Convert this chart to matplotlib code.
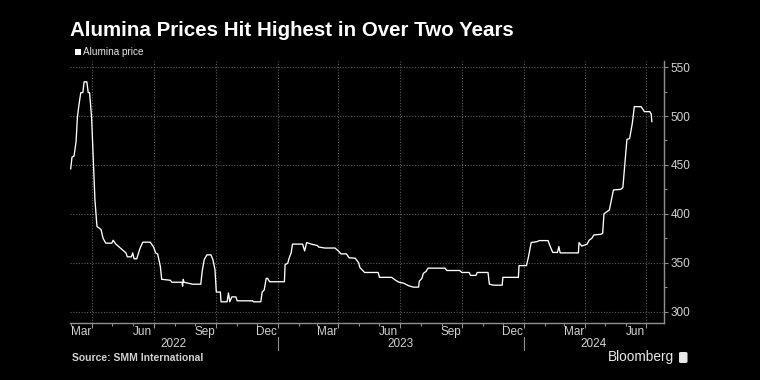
"""Alumina price chart, Bloomberg style"""

import matplotlib.pyplot as plt
import matplotlib.dates as mdates
import matplotlib.transforms as mtransforms
from matplotlib.patches import FancyBboxPatch, Rectangle
from matplotlib.ticker import MultipleLocator
import pandas as pd

plt.rcParams['font.family'] = ['Liberation Sans', 'DejaVu Sans']

TITLE = 'Alumina Prices Hit Highest in Over Two Years'
SERIES_NAME = 'Alumina price'
SOURCE = 'Source: SMM International'

dates = [
    '2022-02-28', '2022-03-02', '2022-03-05', '2022-03-08', '2022-03-10', '2022-03-12',
    '2022-03-15', '2022-03-18', '2022-03-20', '2022-03-24', '2022-03-26', '2022-03-28',
    '2022-03-31', '2022-04-03', '2022-04-05', '2022-04-08', '2022-04-14', '2022-04-17',
    '2022-04-21', '2022-04-30', '2022-05-02', '2022-05-06', '2022-05-11', '2022-05-16',
    '2022-05-21', '2022-05-23', '2022-05-29', '2022-05-31', '2022-06-02', '2022-06-06',
    '2022-06-11', '2022-06-15', '2022-06-26', '2022-07-01', '2022-07-04', '2022-07-07',
    '2022-07-11', '2022-07-13', '2022-07-26', '2022-07-28', '2022-08-12', '2022-08-13',
    '2022-08-14', '2022-08-15', '2022-08-28', '2022-09-09', '2022-09-11', '2022-09-14',
    '2022-09-18', '2022-09-24', '2022-09-27', '2022-09-30', '2022-10-02', '2022-10-08',
    '2022-10-09', '2022-10-18', '2022-10-20', '2022-10-22', '2022-10-25', '2022-10-31',
    '2022-11-02', '2022-11-25', '2022-11-26', '2022-12-07', '2022-12-09', '2022-12-12',
    '2022-12-15', '2022-12-17', '2022-12-20', '2023-01-11', '2023-01-12', '2023-01-16',
    '2023-01-18', '2023-01-21', '2023-01-23', '2023-02-07', '2023-02-10', '2023-02-13',
    '2023-02-20', '2023-03-01', '2023-03-03', '2023-03-12', '2023-03-27', '2023-04-01',
    '2023-04-05', '2023-04-13', '2023-04-17', '2023-04-26', '2023-05-01', '2023-05-03',
    '2023-05-10', '2023-05-30', '2023-06-01', '2023-06-19', '2023-06-25', '2023-06-30',
    '2023-07-07', '2023-07-14', '2023-07-21', '2023-07-29', '2023-07-30', '2023-08-03',
    '2023-08-05', '2023-08-09', '2023-08-12', '2023-09-06', '2023-09-09', '2023-09-28',
    '2023-10-01', '2023-10-12', '2023-10-14', '2023-10-22', '2023-10-24', '2023-11-09',
    '2023-11-11', '2023-11-17', '2023-11-30', '2023-12-01', '2023-12-24', '2023-12-25',
    '2024-01-05', '2024-01-08', '2024-01-12', '2024-01-21', '2024-01-24', '2024-02-06',
    '2024-02-09', '2024-02-13', '2024-02-20', '2024-02-22', '2024-02-24', '2024-03-22',
    '2024-03-23', '2024-03-27', '2024-03-31', '2024-04-04', '2024-04-07', '2024-04-11',
    '2024-04-14', '2024-04-24', '2024-04-27', '2024-04-29', '2024-05-03', '2024-05-07',
    '2024-05-13', '2024-05-24', '2024-05-27', '2024-06-02', '2024-06-06', '2024-06-10',
    '2024-06-13', '2024-06-23', '2024-06-28', '2024-07-06', '2024-07-08', '2024-07-09',
]

prices = [
    446, 458, 459, 474, 499, 510,
    524, 524, 535, 535, 524, 524,
    499, 448, 414, 387, 384, 375,
    370, 370, 373, 369, 366, 363,
    360, 356, 356, 360, 354, 354,
    365, 371, 371, 366, 360, 359,
    346, 333, 332, 330, 330, 326,
    333, 330, 328, 328, 341, 353,
    358, 358, 353, 343, 320, 320,
    310, 310, 319, 310, 315, 315,
    311, 311, 310, 310, 320, 322,
    334, 334, 330.5, 330.5, 348, 349.5,
    354.6, 360, 369, 369, 362, 370.6,
    369, 367.5, 366, 365, 365, 362,
    359, 359, 355, 354.6, 350, 345,
    340, 340, 335, 335, 332, 330,
    329, 326.5, 325, 325, 331, 334,
    339, 341, 344.4, 344.4, 342, 342,
    340, 340, 337, 337, 340, 340,
    328, 327, 327, 335, 335, 347,
    347, 356, 370.6, 371.6, 372.6, 372.6,
    367, 360.5, 360.5, 366.5, 360, 360,
    370.6, 367, 368, 369, 373, 375,
    378.4, 379, 380, 400, 402, 404,
    424.4, 425, 427, 476, 477, 492.6,
    509.6, 509.6, 504.5, 504.5, 502, 494.3,
]

y_ticks = [300, 350, 400, 450, 500, 550]
label_months = pd.date_range('2022-03-01', '2024-06-01', freq='3MS')
years = [2022, 2023, 2024]

x_start = pd.Timestamp('2022-02-27')
x_end = pd.Timestamp('2024-07-27')

TEXT_GREY = '#d2d2d2'
GRID_GREY = '#5c5c5c'
AXIS_GREY = '#8f8f8f'

fig = plt.figure(figsize=(7.6, 3.8), dpi=100, facecolor='black')
ax = fig.add_axes([70 / 760, 56.7 / 380, 594 / 760, 262.3 / 380])
ax.set_facecolor('black')

ax.plot(pd.to_datetime(dates), prices, color='white', linewidth=0.95)

ax.set_xlim(x_start, x_end)
ax.set_ylim(288, 556.3)

# y axis on the right
ax.yaxis.tick_right()
ax.set_yticks(y_ticks)
ax.yaxis.set_minor_locator(MultipleLocator(25))
ax.tick_params(axis='y', which='major', length=3, width=0.8, color=AXIS_GREY,
               labelcolor=TEXT_GREY, labelsize=8.5, pad=1.5)
ax.tick_params(axis='y', which='minor', length=2.5, width=0.8, color=AXIS_GREY)

# x axis: quarter gridlines, month ticks, labels placed mid-month
ax.xaxis.set_major_locator(mdates.MonthLocator(bymonth=[1, 4, 7, 10]))
ax.xaxis.set_minor_locator(mdates.MonthLocator())
ax.xaxis.set_major_formatter(plt.NullFormatter())
ax.tick_params(axis='x', which='major', length=3.5, width=0.8, color=AXIS_GREY)
ax.tick_params(axis='x', which='minor', length=2.5, width=0.8, color=AXIS_GREY)

ax.grid(True, which='major', color=GRID_GREY, linestyle=(0, (1, 1.5)), linewidth=0.8)

for side in ['top', 'left']:
    ax.spines[side].set_visible(False)
for side in ['bottom', 'right']:
    ax.spines[side].set_color(AXIS_GREY)
    ax.spines[side].set_linewidth(1.0)

trans = mtransforms.blended_transform_factory(ax.transData, ax.transAxes)

for m in label_months:
    ax.text(m + pd.Timedelta(days=14), -0.032, m.strftime('%b'), transform=trans,
            ha='center', va='center', color=TEXT_GREY, fontsize=8.5)

bounds = [x_start] + [pd.Timestamp(f'{y}-01-01') for y in years[1:]] + [x_end]
for i, y in enumerate(years):
    mid = bounds[i] + (bounds[i + 1] - bounds[i]) / 2
    ax.text(mid, -0.079, str(y), transform=trans, ha='center', va='center',
            color=TEXT_GREY, fontsize=8.5)
for b in bounds[1:-1]:
    ax.plot([b, b], [-0.052, -0.102], transform=trans, color=AXIS_GREY,
            linewidth=0.8, clip_on=False)

# title, legend, footer
fig.text(70 / 760, 1 - 35.7 / 380, TITLE, color='white', fontsize=14.8, fontweight='bold',
         ha='left', va='baseline')
fig.patches.append(Rectangle((75 / 760, 1 - 54.5 / 380), 5.5 / 760, 5.5 / 380,
                             transform=fig.transFigure, facecolor='white', edgecolor='none'))
fig.text(83 / 760, 1 - 52 / 380, SERIES_NAME, color='#e6e6e6', fontsize=7.2,
         ha='left', va='center')
fig.text(72 / 760, 1 - 358 / 380, SOURCE, color=TEXT_GREY, fontsize=7.5, fontweight='bold',
         ha='left', va='center')
fig.text(674 / 760, 1 - 357 / 380, 'Bloomberg', color='#e8e8e8', fontsize=9.8,
         ha='right', va='center')
fig.patches.append(FancyBboxPatch((679 / 760, 1 - 363 / 380), 8.5 / 760, 11 / 380,
                                  boxstyle='round,pad=0,rounding_size=0.003',
                                  transform=fig.transFigure, facecolor='#e8e8e8',
                                  edgecolor='none'))

fig.savefig('out.png', dpi=100, facecolor='black')
